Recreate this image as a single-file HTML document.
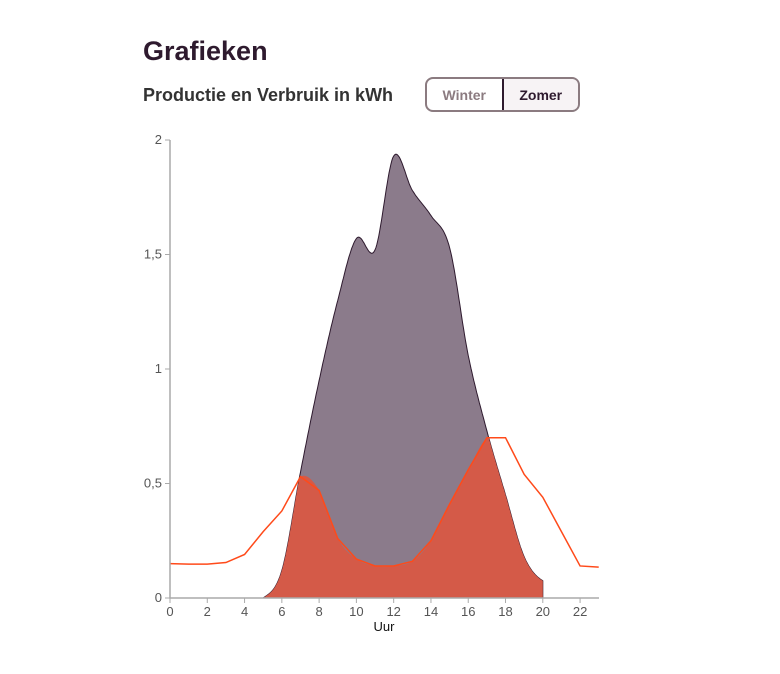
<!DOCTYPE html>
<html><head><meta charset="utf-8"><style>
body{margin:0;background:#fff;width:780px;height:674px;overflow:hidden;font-family:"Liberation Sans",sans-serif;position:relative}
h1{position:absolute;left:143px;top:36px;margin:0;font-size:27px;font-weight:bold;color:#2e1a2e}
h2{position:absolute;left:143px;top:85px;margin:0;font-size:18px;font-weight:bold;color:#333}
.tog{position:absolute;left:425px;top:77px;width:155px;height:35px;border:2px solid #8b7b80;border-radius:8px;box-sizing:border-box;display:flex;overflow:hidden}
.tog div{flex:1;display:flex;align-items:center;justify-content:center;font-size:14px;font-weight:bold}
.w{color:#8b7b80}
.z{color:#2e1a2e;background:#f7f3f5;border:2px solid #2e1a2e;border-radius:0 7px 7px 0;margin:-2px -2px -2px 0}
svg{position:absolute;left:0;top:0}
</style></head><body>
<h1>Grafieken</h1>
<h2>Productie en Verbruik in kWh</h2>
<div class="tog"><div class="w">Winter</div><div class="z">Zomer</div></div>
<svg width="780" height="674" id="s" font-family="Liberation Sans, sans-serif"></svg>
<script>
const X=h=>170+h*18.64, Y=v=>598-v*229;
const cons=[0.15,0.148,0.148,0.155,0.19,0.29,0.38,0.53,0.47,0.26,0.17,0.14,0.14,0.16,0.25,0.41,0.56,0.70,0.70,0.54,0.44,0.29,0.14,0.135];
const prod={5:0,6:0.12,7:0.55,8:0.95,9:1.3,10:1.57,11:1.52,12:1.93,13:1.78,14:1.67,15:1.53,16:1.06,17:0.73,18:0.45,19:0.18,20:0.075};
function cr(arr,t){const i=Math.min(Math.floor(t),arr.length-2),f=t-i;const p0=arr[Math.max(i-1,0)],p1=arr[i],p2=arr[i+1],p3=arr[Math.min(i+2,arr.length-1)];
return 0.5*((2*p1)+(-p0+p2)*f+(2*p0-5*p1+4*p2-p3)*f*f+(-p0+3*p1-3*p2+p3)*f*f*f);}
const pa=[];for(let h=5;h<=20;h++)pa.push(prod[h]);
const P=h=>Math.max(0,cr(pa,h-5)), C=h=>cr(cons,h);
let s='';
let d='M'+X(5)+','+Y(0);for(let h=5;h<=20.001;h+=0.05)d+='L'+X(h).toFixed(1)+','+Y(P(h)).toFixed(1);d+='L'+X(20)+','+Y(0)+'Z';
s+=`<path d="${d}" fill="#8b7b8b" stroke="#2e1a2e" stroke-width="1"/>`;
d='M'+X(5)+','+Y(0);for(let h=5;h<=20.001;h+=0.05)d+='L'+X(h).toFixed(1)+','+Y(Math.min(P(h),C(h))).toFixed(1);d+='L'+X(20)+','+Y(0)+'Z';
s+=`<path d="${d}" fill="#d45a48"/>`;
s+=`<polyline fill="none" stroke="#ff4a1a" stroke-width="1.5" points="${cons.map((v,i)=>X(i)+','+Y(v)).join(' ')}"/>`;
s+=`<path d="M170,140V598H599" fill="none" stroke="#aaa" stroke-width="1.5"/>`;
[[0,'0'],[0.5,'0,5'],[1,'1'],[1.5,'1,5'],[2,'2']].forEach(([v,t])=>{s+=`<line x1="165" x2="170" y1="${Y(v)}" y2="${Y(v)}" stroke="#aaa"/><text x="162" y="${Y(v)+4}" text-anchor="end" font-size="13" fill="#555">${t}</text>`});
for(let h=0;h<=22;h+=2){s+=`<line x1="${X(h)}" x2="${X(h)}" y1="598" y2="603" stroke="#aaa"/><text x="${X(h)}" y="616" text-anchor="middle" font-size="13" fill="#555">${h}</text>`}
s+=`<text x="384" y="631" text-anchor="middle" font-size="13" fill="#111">Uur</text>`;
document.getElementById('s').innerHTML=s;
</script>
</body></html>
